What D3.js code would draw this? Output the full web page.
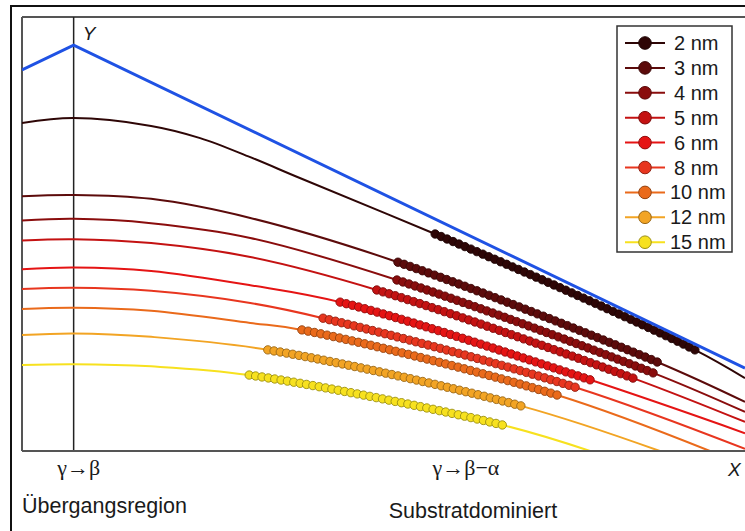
<!DOCTYPE html>
<html>
<head>
<meta charset="utf-8">
<script src="https://cdn.jsdelivr.net/npm/d3@7"></script>
<style>
  html, body { margin: 0; padding: 0; background: #fff; }
  svg { display: block; }
  text { font-family: "Liberation Sans", Arial, sans-serif; fill: #1a1a1a; }
  .greek { font-family: "Liberation Serif", "Times New Roman", serif; }
</style>
</head>
<body>
<svg id="chart" width="745" height="531"></svg>
<script>
// Film thickness series shown in the legend
const sizes = ["2 nm", "3 nm", "4 nm", "5 nm", "6 nm", "8 nm", "10 nm", "12 nm", "15 nm"];

// Upper bound (blue): rises to the γ→β transition, then falls linearly towards X
const boundary = [[-10, 87.8], [0, 93.5], [130, 19.1]];

// Curves for each thickness, [x, y] in chart units
const curve2 = [[-10, 75.6], [0, 76.7], [15, 74.9], [24.5, 72.1], [34.2, 67.7], [43.8, 62.9], [70, 50.0], [95.2, 37.1], [120.3, 23.3], [130, 16.8]];
const curve3 = [[-10, 58.7], [0, 59.0], [15, 58.1], [34.2, 53.7], [62.8, 43.5], [113, 20.5], [130, 11.3]];
const curve4 = [[-10, 53.1], [0, 53.5], [15, 52.5], [34.2, 49.1], [62.6, 39.4], [112.2, 18.0], [130, 9.0]];
const curve5 = [[-10, 48.5], [0, 48.8], [15, 47.9], [34.2, 44.7], [58.7, 37.1], [108.3, 16.8], [130, 6.7]];
const curve6 = [[-10, 41.9], [0, 42.3], [15, 41.5], [34.2, 38.2], [51.6, 34.3], [100, 16.4], [130, 4.1]];
const curve8 = [[-10, 37.3], [0, 37.6], [15, 36.9], [34.2, 34.1], [48.3, 30.6], [97.1, 14.7], [130, 0.5]];
const curve10 = [[-10, 32.7], [0, 33.0], [15, 32.3], [34.2, 29.5], [44.2, 27.9], [93.6, 12.9], [123.2, 0]];
const curve12 = [[-10, 26.7], [0, 27.1], [15, 26.3], [37.6, 23.3], [86.6, 10.4], [113.5, 0]];
const curve15 = [[-10, 19.8], [0, 20.0], [15, 19.5], [34, 17.5], [83, 6.0], [100, 0]];
const curves = [curve2, curve3, curve4, curve5, curve6, curve8, curve10, curve12, curve15];

// x-range covered by measured points on each curve
const measuredFrom = [70, 62.8, 62.6, 58.7, 51.6, 48.3, 44.2, 37.6, 34];
const measuredTo   = [120.3, 113, 112.2, 108.3, 100, 97.1, 93.6, 86.6, 83];

// Axis annotations
const xMarks = [
  { x: 0, label: "γ→β", region: "Übergangsregion" },
  { x: 75, label: "γ→β−α", region: "Substratdominiert" }
];

// Colours (dark red for thin films through to yellow for thick ones)
const lineColors = ["#2e0606", "#5c0b0b", "#8a0d0d", "#c41212", "#e51414", "#e8361f", "#ea6a1b", "#f2a424", "#f7e11f"];
const blue = "#1f52e4";

const svg = d3.select("#chart");
const W = 745, H = 531;
const plot = { left: 22, top: 17, right: 745, bottom: 451 };

const x = d3.scaleLinear().domain([-10, 130]).range([plot.left, plot.right]);
const y = d3.scaleLinear().domain([0, 100]).range([plot.bottom, plot.top]);

// Outer frame
svg.append("rect")
  .attr("x", 11).attr("y", 6)
  .attr("width", W + 20).attr("height", H + 20)
  .attr("fill", "#fff").attr("stroke", "#111").attr("stroke-width", 2);

svg.append("defs").append("clipPath").attr("id", "plotClip")
  .append("rect")
  .attr("x", plot.left).attr("y", plot.top)
  .attr("width", plot.right - plot.left + 10).attr("height", plot.bottom - plot.top);

// Plot frame: left and top edges
const frame = svg.append("g").attr("fill", "none").attr("stroke", "#555").attr("stroke-width", 2);
frame.append("line").attr("x1", plot.left).attr("x2", plot.left).attr("y1", plot.top).attr("y2", plot.bottom);
frame.append("line").attr("x1", plot.left).attr("x2", W + 5).attr("y1", plot.top).attr("y2", plot.top);

// Transition line at γ→β
svg.append("line")
  .attr("x1", x(0)).attr("x2", x(0))
  .attr("y1", plot.top).attr("y2", plot.bottom)
  .attr("stroke", "#222").attr("stroke-width", 1.5);

const g = svg.append("g").attr("clip-path", "url(#plotClip)");

const line = d3.line()
  .x(d => x(d[0])).y(d => y(d[1]))
  .curve(d3.curveCatmullRom.alpha(0.5));

const paths = curves.map((c, i) =>
  g.append("path")
    .datum(c)
    .attr("d", line)
    .attr("fill", "none")
    .attr("stroke", lineColors[i])
    .attr("stroke-width", 2)
    .node()
);

// Find the path length where the curve reaches a given x value
function lengthAtX(node, xv) {
  const px = x(xv);
  let lo = 0, hi = node.getTotalLength();
  for (let k = 0; k < 40; k++) {
    const mid = (lo + hi) / 2;
    if (node.getPointAtLength(mid).x < px) lo = mid; else hi = mid;
  }
  return (lo + hi) / 2;
}

// Measured points, evenly spaced along each curve
const step = 6.4;
curves.forEach((c, i) => {
  const node = paths[i];
  const l0 = lengthAtX(node, measuredFrom[i]);
  const l1 = lengthAtX(node, measuredTo[i]);
  const n = Math.max(2, Math.round((l1 - l0) / step) + 1);
  const pts = d3.range(n).map(k => node.getPointAtLength(l0 + (l1 - l0) * k / (n - 1)));
  const fill = d3.color(lineColors[i]);
  g.append("g").selectAll("circle")
    .data(pts)
    .join("circle")
    .attr("cx", p => p.x).attr("cy", p => p.y)
    .attr("r", 4.2)
    .attr("fill", fill.formatHex())
    .attr("stroke", fill.darker(1.3).formatHex())
    .attr("stroke-width", 0.9);
});

// Blue upper boundary
g.append("path")
  .datum(boundary)
  .attr("d", d3.line().x(d => x(d[0])).y(d => y(d[1])))
  .attr("fill", "none")
  .attr("stroke", blue)
  .attr("stroke-width", 3)
  .attr("stroke-linejoin", "miter");

// X axis line
svg.append("line")
  .attr("x1", plot.left).attr("x2", W + 5)
  .attr("y1", plot.bottom).attr("y2", plot.bottom)
  .attr("stroke", "#555").attr("stroke-width", 2);

// Axis letters
svg.append("text").attr("x", x(0) + 9).attr("y", 40)
  .attr("font-size", 19).attr("font-style", "italic").text("Y");
svg.append("text").attr("x", 728).attr("y", 476)
  .attr("font-size", 19).attr("font-style", "italic").text("X");

// Transition labels and region names
xMarks.forEach(m => {
  svg.append("text").attr("class", "greek")
    .attr("x", x(m.x) + 5).attr("y", 475)
    .attr("text-anchor", "middle")
    .attr("font-size", 22).text(m.label);
});
svg.append("text").attr("x", plot.left).attr("y", 513)
  .attr("font-size", 21.5).text(xMarks[0].region);
svg.append("text").attr("x", x(xMarks[1].x) + 12).attr("y", 518)
  .attr("text-anchor", "middle")
  .attr("font-size", 21.5).text(xMarks[1].region);

// Legend
const legend = svg.append("g").attr("transform", "translate(617,26)");
legend.append("rect")
  .attr("width", 115).attr("height", 226)
  .attr("fill", "#fff").attr("stroke", "#333").attr("stroke-width", 1.5);
const rows = legend.selectAll("g.row")
  .data(sizes)
  .join("g").attr("class", "row")
  .attr("transform", (d, i) => `translate(0,${17 + i * 24.9})`);
rows.append("line")
  .attr("x1", 8).attr("x2", 48)
  .attr("stroke", (d, i) => lineColors[i]).attr("stroke-width", 2);
rows.append("circle")
  .attr("cx", 28).attr("r", 6.3)
  .attr("fill", (d, i) => lineColors[i])
  .attr("stroke", (d, i) => d3.color(lineColors[i]).darker(1.3).formatHex())
  .attr("stroke-width", 1);
rows.append("text")
  .attr("x", (d) => d.length > 4 ? 53 : 57).attr("y", 7)
  .attr("font-size", 20).text(d => d);
</script>
</body>
</html>
